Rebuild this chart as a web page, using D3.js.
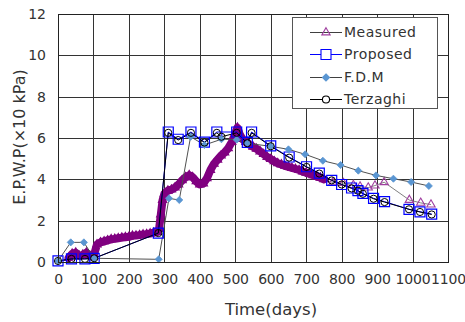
<!DOCTYPE html>
<html><head><meta charset="utf-8">
<script src="https://cdn.jsdelivr.net/npm/d3@7"></script>
<style>
html,body{margin:0;padding:0;background:#fff;}
svg{display:block;font-family:"DejaVu Sans",sans-serif;}
</style></head>
<body><svg id="c" width="465" height="322"></svg>
<script>
const xTicks = [0,100,200,300,400,500,600,700,800,900,1000,1100];
const yTicks = [0,2,4,6,8,10,12];
const seriesNames = ["Measured","Proposed","F.D.M","Terzaghi"];

// Measured (dense daily band + sparse later readings)
const measuredT = [30,40,50,60,70,80,90,100,110,120,130,140,150,160,170,180,190,200,210,220,230,240,250,260,270,280,285,290,295,300,310,320,330,340,350,360,370,380,390,400,410,420,430,440,450,460,470,480,490,500,506,512,520,530,540,550,560,570,580,590,600,610,620,630,640,650,660,670,680,690,700,710,720,730,740,750,775,805,833,852,875,894,920,991,1023,1052];
const measuredV = [0.2,0.4,0.45,0.3,0.35,0.45,0.3,0.25,0.85,0.95,1.0,1.05,1.1,1.12,1.15,1.18,1.2,1.22,1.27,1.28,1.3,1.33,1.35,1.38,1.42,1.45,1.6,2.3,3.0,3.3,3.45,3.5,3.6,3.75,3.95,4.1,4.2,4.1,3.9,3.75,3.8,4.05,4.45,4.75,4.95,5.15,5.3,5.5,5.8,6.2,6.5,6.2,5.95,5.8,5.68,5.58,5.48,5.35,5.22,5.08,4.98,4.87,4.78,4.72,4.65,4.6,4.55,4.5,4.45,4.38,4.32,4.26,4.2,4.14,4.08,4.0,3.85,3.82,3.72,3.65,3.6,3.7,3.86,3.0,2.86,2.78];
const measuredDenseEnd = 750;

const proposedT = [0,38,76,102,283,311,339,375,413,448,504,534,546,600,652,701,737,772,800,828,846,860,890,921,990,1021,1054];
const proposedV = [0.05,0.15,0.15,0.18,1.4,6.29,5.94,6.29,5.8,6.29,6.29,5.79,6.29,5.62,5.08,4.61,4.3,3.95,3.75,3.58,3.45,3.32,3.08,2.92,2.55,2.43,2.32];

const fdmT = [0,36,73,102,284,313,342,374,413,461,504,534,600,650,697,747,797,847,897,946,996,1046];
const fdmV = [0.05,0.95,0.95,0.18,0.13,3.08,3.0,6.06,5.66,5.94,5.92,5.74,5.6,5.45,5.21,4.9,4.69,4.42,4.19,4.03,3.87,3.68];

const terzaghiT = [0,38,76,102,283,311,339,375,413,448,461,504,534,546,600,652,701,737,772,800,828,846,860,890,921,990,1021,1054];
const terzaghiV = [0.05,0.15,0.15,0.18,1.4,6.25,5.9,6.25,5.78,6.25,6.06,6.25,5.75,6.25,5.6,5.05,4.6,4.28,3.95,3.75,3.56,3.45,3.3,3.06,2.9,2.55,2.42,2.3];

const svg = d3.select("#c");
const L=58,R=448,T=14,B=262;
const x = d3.scaleLinear().domain([0,1100]).range([L,R]);
const y = d3.scaleLinear().domain([0,12]).range([B,T]);

// grid
const g = svg.append("g");
g.selectAll("line.v").data(xTicks).join("line")
 .attr("x1",d=>Math.round(x(d))+0.5).attr("x2",d=>Math.round(x(d))+0.5)
 .attr("y1",T).attr("y2",B).attr("stroke","#333").attr("stroke-width",1);
g.selectAll("line.h").data(yTicks).join("line")
 .attr("y1",d=>Math.round(y(d))+0.5).attr("y2",d=>Math.round(y(d))+0.5)
 .attr("x1",L).attr("x2",R).attr("stroke","#333").attr("stroke-width",1);

const xa = svg.append("g").attr("transform",`translate(0,${B})`)
 .call(d3.axisBottom(x).tickValues(xTicks).tickSize(0).tickPadding(12).tickFormat(d3.format("d")));
const ya = svg.append("g").attr("transform",`translate(${L},0)`)
 .call(d3.axisLeft(y).tickValues(yTicks).tickSize(0).tickPadding(12).tickFormat(d3.format("d")));
[xa,ya].forEach(a=>{a.select(".domain").remove();
 a.selectAll("text").attr("font-size",14).attr("fill","#333").attr("font-family","DejaVu Sans");});
xa.selectAll("text").attr("letter-spacing","-0.2");

const data = (T_,V_) => T_.map((t,i)=>[t,V_[i]]);
const line = d3.line().x(d=>x(d[0])).y(d=>y(d[1]));
const measured = data(measuredT,measuredV);
const dense = measured.filter(d=>d[0]<=measuredDenseEnd);

// Measured
svg.append("path").attr("d",line(measured)).attr("fill","none").attr("stroke","#808080").attr("stroke-width",1);
svg.append("path").attr("d",line(dense)).attr("fill","none").attr("stroke","#800080")
 .attr("stroke-width",8).attr("stroke-linejoin","round").attr("stroke-linecap","round");
const tri = d3.symbol().type(d3.symbolTriangle).size(30);
svg.append("g").selectAll("path").data(measured).join("path")
 .attr("transform",d=>`translate(${x(d[0])},${y(d[1])})`).attr("d",tri)
 .attr("fill",d=>d[0]<=measuredDenseEnd?"#800080":"none")
 .attr("stroke",d=>d[0]<=measuredDenseEnd?"#800080":"#a040a0").attr("stroke-width",1.1);

const proposed = data(proposedT,proposedV);
svg.append("path").attr("d",line(proposed)).attr("fill","none").attr("stroke","#0000ff").attr("stroke-width",1);
const fdm = data(fdmT,fdmV);
svg.append("path").attr("d",line(fdm)).attr("fill","none").attr("stroke","#505050").attr("stroke-width",1);
const terz = data(terzaghiT,terzaghiV);
svg.append("path").attr("d",line(terz)).attr("fill","none").attr("stroke","#000").attr("stroke-width",1);

const sq = d3.symbol().type(d3.symbolSquare).size(100);
svg.append("g").selectAll("path").data(proposed).join("path")
 .attr("transform",d=>`translate(${x(d[0])},${y(d[1])})`).attr("d",sq)
 .attr("fill","none").attr("stroke","#0000ff").attr("stroke-width",1.2);
const dia = d3.symbol().type(d3.symbolDiamond2).size(32);
svg.append("g").selectAll("path").data(fdm).join("path")
 .attr("transform",d=>`translate(${x(d[0])},${y(d[1])})`).attr("d",dia)
 .attr("fill","#5a96d2").attr("stroke","#5a96d2").attr("stroke-width",0.8);
const circ = d3.symbol().type(d3.symbolCircle).size(40);
svg.append("g").selectAll("path").data(terz).join("path")
 .attr("transform",d=>`translate(${x(d[0])},${y(d[1])})`).attr("d",circ)
 .attr("fill","none").attr("stroke","#000").attr("stroke-width",1);

svg.append("rect").attr("x",L+0.5).attr("y",T+0.5).attr("width",R-L).attr("height",B-T)
 .attr("fill","none").attr("stroke","#222").attr("stroke-width",1);

svg.append("text").attr("x",271).attr("y",315).attr("text-anchor","middle")
 .attr("font-size",16.5).attr("fill","#333").text("Time(days)");
svg.append("text").attr("transform","translate(25,137) rotate(-90)").attr("text-anchor","middle")
 .attr("font-size",16).attr("fill","#333").text("E.P.W.P(×10 kPa)");

const lg = svg.append("g");
lg.append("rect").attr("x",292.5).attr("y",17.5).attr("width",145).attr("height",91)
 .attr("fill","#fff").attr("stroke","#555").attr("stroke-width",1);
const rowsY=[32,54,77,99];
const lineCols=["#404040","#0000ff","#404040","#000"];
const syms=[
 {s:d3.symbol().type(d3.symbolTriangle).size(30),fill:"none",stroke:"#a040a0"},
 {s:sq,fill:"#fff",stroke:"#0000ff"},
 {s:dia,fill:"#5a96d2",stroke:"#5a96d2"},
 {s:circ,fill:"#fff",stroke:"#000"}];
seriesNames.forEach((n,i)=>{
 const yy=rowsY[i];
 lg.append("line").attr("x1",310).attr("x2",342).attr("y1",yy+0.5).attr("y2",yy+0.5)
  .attr("stroke",lineCols[i]).attr("stroke-width",1);
 lg.append("path").attr("transform",`translate(326,${yy+0.5})`).attr("d",syms[i].s)
  .attr("fill",syms[i].fill).attr("stroke",syms[i].stroke).attr("stroke-width",1.1);
 lg.append("text").attr("x",344).attr("y",yy+5).attr("font-size",14).attr("letter-spacing","0.5")
  .attr("fill","#333").text(n);
});
</script></body></html>
